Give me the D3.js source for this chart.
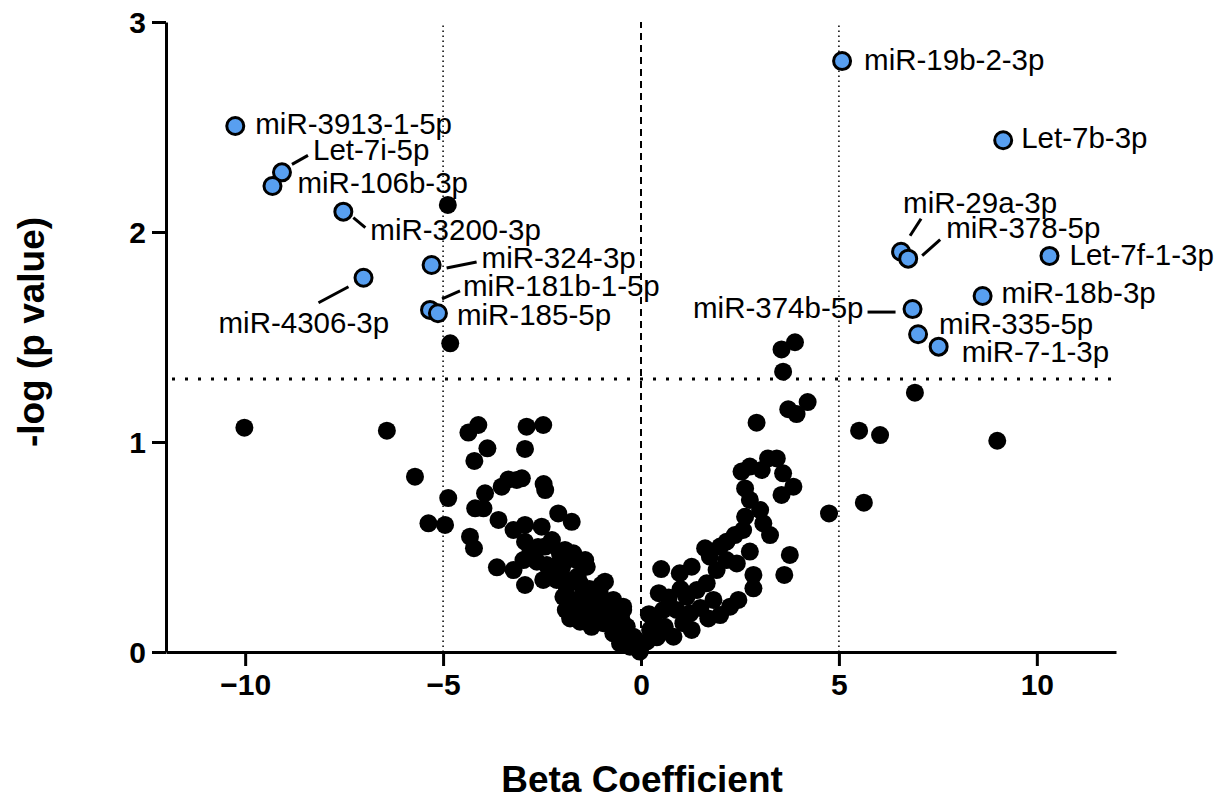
<!DOCTYPE html>
<html>
<head>
<meta charset="utf-8">
<script src="https://cdn.jsdelivr.net/npm/d3@7"></script>
<style>
  html, body { margin: 0; padding: 0; background: #fff; }
  svg { display: block; }
  text { font-family: "Liberation Sans", Arial, Helvetica, sans-serif; }
</style>
</head>
<body>
<svg id="chart" width="1227" height="800"></svg>
<script>
// ---------- DATA ----------
// Highlighted (significant) miRNAs
const sigNames = ["miR-3913-1-5p","Let-7i-5p","miR-106b-3p","miR-3200-3p","miR-4306-3p",
  "miR-324-3p","miR-181b-1-5p","miR-185-5p","miR-19b-2-3p","Let-7b-3p","miR-29a-3p",
  "miR-378-5p","Let-7f-1-3p","miR-18b-3p","miR-374b-5p","miR-335-5p","miR-7-1-3p"];
const sigBeta = [-10.25,-9.07,-9.31,-7.52,-7.01,-5.29,-5.33,-5.13,5.08,9.15,6.57,6.75,10.32,8.63,6.86,7.00,7.52];
const sigLogP = [2.505,2.284,2.219,2.097,1.782,1.843,1.629,1.613,2.814,2.437,1.906,1.873,1.886,1.695,1.633,1.513,1.454];

// Other miRNAs (beta coefficient, -log p)
const otherBeta = [
  -10.02,-6.42,-5.71,-4.87,-5.37,-4.95,-4.36,-4.11,-4.21,-3.88,-2.89,-2.47,-2.93,-3.94,-4.19,-3.98,
  -3.52,-3.35,-3.14,-3.01,-2.42,-2.46,-2.09,-1.75,-3.60,-4.32,-4.22,-3.22,-2.93,-2.51,-2.93,-2.25,
  -2.42,-1.92,-1.71,-1.41,-3.64,-3.22,-2.97,-2.63,-2.38,-2.17,-2.93,-2.47,-2.05,-1.71,-1.88,-1.54,
  -1.96,-1.71,-1.46,-1.79,-1.54,-0.91,-1.04,-0.70,-0.45,-1.12,-0.95,-0.70,-0.53,-0.28,-0.03,-1.37,
  -1.62,-2.05,-1.88,-2.21,-2.13,-1.20,-1.29,-0.61,-0.36,-0.19,-4.88,-4.82,
  -2.80,-2.60,-2.00,-1.60,-1.30,-1.10,-0.85,-0.60,-0.40,-1.50,-1.90,-1.00,-0.80,-1.25,-0.50,
  3.55,3.89,3.59,3.72,3.93,4.21,2.92,5.51,5.63,4.75,3.76,3.62,0.51,6.92,6.04,9.00,
  2.54,2.75,3.05,3.21,3.43,3.59,3.85,3.55,2.63,2.75,3.01,2.63,3.09,3.26,2.58,2.37,2.16,2.00,
  1.62,1.74,1.91,2.16,2.42,2.75,2.84,2.84,2.46,2.25,2.00,1.83,1.66,1.41,1.28,0.98,1.15,1.24,
  1.28,1.07,0.82,0.56,0.31,0.23,-0.03,-0.45,
  0.15,0.40,0.60,0.90,0.70,1.00,1.50,1.70,0.45,0.20
];
const otherLogP = [
  1.068,1.054,0.835,0.733,0.613,0.605,1.045,1.081,0.910,0.970,1.073,1.081,0.967,0.756,0.684,0.684,
  0.787,0.822,0.819,0.827,0.771,0.800,0.660,0.620,0.629,0.549,0.494,0.581,0.605,0.597,0.525,0.533,
  0.502,0.486,0.470,0.438,0.403,0.390,0.438,0.430,0.414,0.406,0.319,0.343,0.359,0.343,0.311,0.327,
  0.263,0.248,0.279,0.160,0.144,0.335,0.279,0.248,0.200,0.184,0.137,0.089,0.041,0.025,0.002,0.406,
  0.438,0.470,0.438,0.406,0.343,0.184,0.216,0.152,0.121,0.073,2.129,1.470,
  0.470,0.500,0.400,0.360,0.300,0.240,0.200,0.100,0.060,0.200,0.200,0.320,0.150,0.120,0.160,
  1.441,1.475,1.335,1.156,1.133,1.190,1.092,1.054,0.711,0.660,0.462,0.367,0.395,1.235,1.033,1.006,
  0.859,0.883,0.867,0.922,0.922,0.851,0.787,0.748,0.779,0.724,0.676,0.644,0.613,0.557,0.581,0.557,0.525,0.502,
  0.494,0.454,0.390,0.438,0.422,0.478,0.367,0.303,0.248,0.216,0.176,0.248,0.327,0.295,0.406,0.375,0.263,0.184,
  0.105,0.137,0.073,0.200,0.152,0.105,0.010,0.216,
  0.050,0.070,0.120,0.200,0.260,0.300,0.210,0.160,0.280,0.180
];

const xTicks = [-10, -5, 0, 5, 10];
const yTicks = [0, 1, 2, 3];
const xTitle = "Beta Coefficient";
const yTitle = "-log (p value)";
const pThreshold = 1.3;      // -log10(0.05)
const betaThresholds = [-5, 5];

// ---------- LAYOUT (label placement, px offsets from the point) ----------
const labelLayout = {
  "miR-3913-1-5p": {dx: 20, dy: 8, anchor: "start"},
  "Let-7i-5p":     {dx: 31, dy: -12, anchor: "start", lead: [10,-8,26,-17]},
  "miR-106b-3p":   {dx: 25, dy: 7, anchor: "start"},
  "miR-3200-3p":   {dx: 27, dy: 28, anchor: "start", lead: [10,6,22,16]},
  "miR-4306-3p":   {dx: -145, dy: 55, anchor: "start", lead: [-45,25,-15,9]},
  "miR-324-3p":    {dx: 50, dy: 3, anchor: "start", lead: [15,3,45,-3]},
  "miR-181b-1-5p": {dx: 33, dy: -14, anchor: "start", lead: [12,-11,30,-19]},
  "miR-185-5p":    {dx: 19, dy: 12, anchor: "start"},
  "miR-19b-2-3p":  {dx: 22, dy: 9, anchor: "start"},
  "Let-7b-3p":     {dx: 18, dy: 8, anchor: "start"},
  "miR-29a-3p":    {dx: 2, dy: -39, anchor: "start", lead: [9,-16,20,-33]},
  "miR-378-5p":    {dx: 38, dy: -21, anchor: "start", lead: [14,-3,32,-19]},
  "Let-7f-1-3p":   {dx: 20, dy: 9, anchor: "start"},
  "miR-18b-3p":    {dx: 19, dy: 7, anchor: "start"},
  "miR-374b-5p":   {dx: -49, dy: 9, anchor: "end", lead: [-45,3,-17,3]},
  "miR-335-5p":    {dx: 21, dy: 0, anchor: "start"},
  "miR-7-1-3p":    {dx: 23, dy: 15, anchor: "start"}
};

// ---------- CHART ----------
const svg = d3.select("#chart");
const x = d3.scaleLinear().domain([-12, 12]).range([166, 1116]);
const y = d3.scaleLinear().domain([0, 3]).range([652, 22]);

// reference lines
const ref = svg.append("g");
ref.append("line")
  .attr("x1", x(0)).attr("x2", x(0)).attr("y1", y(0)).attr("y2", y(3))
  .attr("stroke", "#000").attr("stroke-width", 2).attr("stroke-dasharray", "7,5");
ref.selectAll("line.vb").data(betaThresholds).enter().append("line")
  .attr("class", "vb")
  .attr("x1", d => x(d)).attr("x2", d => x(d)).attr("y1", y(0)).attr("y2", y(3))
  .attr("stroke", "#000").attr("stroke-width", 1.5).attr("stroke-dasharray", "1.5,3.5");
ref.append("line")
  .attr("x1", x(-12) + 6).attr("x2", x(12)).attr("y1", y(pThreshold)).attr("y2", y(pThreshold))
  .attr("stroke", "#000").attr("stroke-width", 3).attr("stroke-dasharray", "3,10");

// other points
const others = otherBeta.map((b, i) => ({b, p: otherLogP[i]}));
svg.append("g").selectAll("circle").data(others).enter().append("circle")
  .attr("cx", d => x(d.b)).attr("cy", d => y(d.p)).attr("r", 9)
  .attr("fill", "#000");

// significant points
const sig = sigNames.map((n, i) => ({n, b: sigBeta[i], p: sigLogP[i]}));
svg.append("g").selectAll("circle").data(sig).enter().append("circle")
  .attr("cx", d => x(d.b)).attr("cy", d => y(d.p)).attr("r", 8.5)
  .attr("fill", "#589ff0").attr("stroke", "#000").attr("stroke-width", 3);

// leader lines + labels
const lab = svg.append("g");
sig.forEach(d => {
  const L = labelLayout[d.n];
  const px = x(d.b), py = y(d.p);
  if (L.lead) {
    lab.append("line")
      .attr("x1", px + L.lead[0]).attr("y1", py + L.lead[1])
      .attr("x2", px + L.lead[2]).attr("y2", py + L.lead[3])
      .attr("stroke", "#000").attr("stroke-width", 3);
  }
  lab.append("text")
    .attr("x", px + L.dx).attr("y", py + L.dy)
    .attr("text-anchor", L.anchor)
    .attr("font-size", 29.5)
    .attr("fill", "#000")
    .text(d.n);
});

// axes
const xAxis = svg.append("g").attr("transform", `translate(0,${y(0)})`)
  .call(d3.axisBottom(x).tickValues(xTicks).tickSize(14).tickSizeOuter(0).tickPadding(8));
const yAxis = svg.append("g").attr("transform", `translate(${x(-12)},0)`)
  .call(d3.axisLeft(y).tickValues(yTicks).tickSize(14).tickSizeOuter(0).tickPadding(6).tickFormat(d3.format("d")));
[xAxis, yAxis].forEach(g => {
  g.select(".domain").attr("stroke-width", 3).attr("stroke", "#000");
  g.selectAll(".tick line").attr("stroke-width", 3).attr("stroke", "#000");
  g.selectAll(".tick text")
    .attr("font-family", "'Liberation Sans', Arial, sans-serif")
    .attr("font-size", 30).attr("font-weight", "bold").attr("fill", "#000");
});
yAxis.selectAll(".tick text").attr("dy", "0.36em");

// titles
svg.append("text")
  .attr("x", 642).attr("y", 792)
  .attr("text-anchor", "middle")
  .attr("font-size", 37).attr("font-weight", "bold")
  .text(xTitle);
svg.append("text")
  .attr("transform", "translate(44,332) rotate(-90)")
  .attr("text-anchor", "middle")
  .attr("font-size", 37).attr("font-weight", "bold")
  .text(yTitle);
</script>
</body>
</html>
